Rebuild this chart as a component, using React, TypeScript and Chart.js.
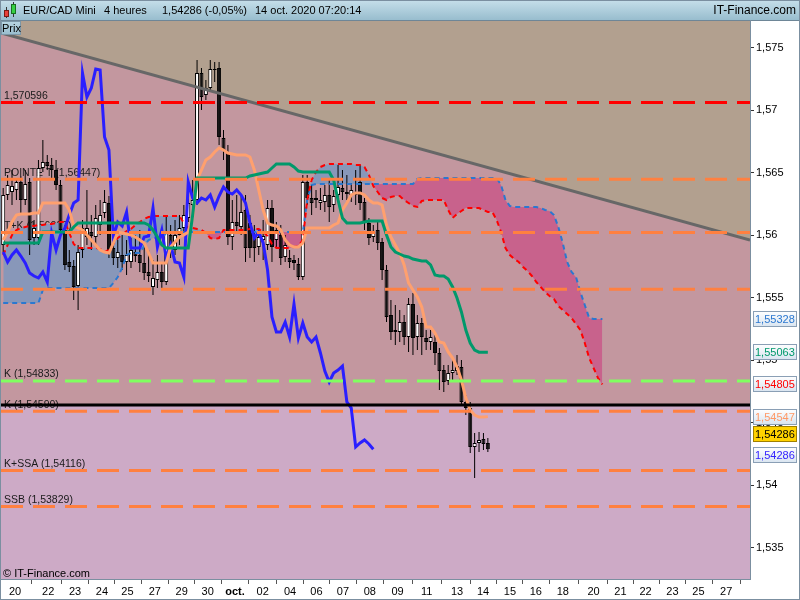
import React, { useEffect, useRef } from 'react';
import { Chart, registerables } from 'chart.js';

Chart.register(...registerables);

const FONT = '"Liberation Sans", Arial, sans-serif';

// ---- 4h candles (EUR/CAD) ----
const opens = [
  1.55920, 1.56320, 1.56344, 1.56360, 1.56424, 1.56280, 1.56424, 1.55976, 1.55976, 1.56536,
  1.56584, 1.56560, 1.56520, 1.56400, 1.56040, 1.55784, 1.55752, 1.55592, 1.55880, 1.55984,
  1.56024, 1.55984, 1.56080, 1.56176, 1.56256, 1.55896, 1.55816, 1.55840, 1.55784, 1.55784,
  1.55864, 1.55840, 1.55776, 1.55704, 1.55584, 1.55640, 1.55704, 1.55624, 1.56000, 1.55880,
  1.56000, 1.56056, 1.56136, 1.56240, 1.56280, 1.57296, 1.57120, 1.57176, 1.57328, 1.57336,
  1.56776, 1.56656, 1.55984, 1.56104, 1.56064, 1.56200, 1.56096, 1.56000, 1.55904, 1.55960,
  1.55920, 1.56216, 1.55960, 1.56000, 1.55824, 1.55816, 1.55800, 1.55768, 1.55664, 1.56424,
  1.56296, 1.56280, 1.56256, 1.56264, 1.56320, 1.56240, 1.56320, 1.56376, 1.56344, 1.56320,
  1.56344, 1.56424, 1.56264, 1.56096, 1.55984, 1.56040, 1.55944, 1.55720, 1.55360, 1.55240,
  1.55224, 1.55304, 1.55184, 1.55448, 1.55184, 1.55296, 1.55176, 1.55144, 1.55144, 1.55056,
  1.54920, 1.54832, 1.54896, 1.54912, 1.54944, 1.54664, 1.54616, 1.54304, 1.54336, 1.54368,
  1.54336,
];
const highs = [
  1.56376, 1.56480, 1.56520, 1.56456, 1.56472, 1.56520, 1.56456, 1.56120, 1.56600, 1.56760,
  1.56640, 1.56616, 1.56600, 1.56440, 1.56080, 1.55880, 1.55800, 1.55920, 1.56120, 1.56360,
  1.56160, 1.56240, 1.56280, 1.56360, 1.56312, 1.56080, 1.55960, 1.56000, 1.55960, 1.55976,
  1.56000, 1.56040, 1.55920, 1.55880, 1.55800, 1.55840, 1.55784, 1.56160, 1.56080, 1.56120,
  1.56160, 1.56240, 1.56400, 1.56440, 1.57400, 1.57336, 1.57240, 1.57400, 1.57384, 1.57384,
  1.56840, 1.56720, 1.56280, 1.56320, 1.56320, 1.56320, 1.56160, 1.56080, 1.56040, 1.56120,
  1.56280, 1.56280, 1.56104, 1.56080, 1.56000, 1.55880, 1.55840, 1.55816, 1.56480, 1.56480,
  1.56400, 1.56360, 1.56376, 1.56400, 1.56440, 1.56360, 1.56560, 1.56520, 1.56480, 1.56416,
  1.56520, 1.56560, 1.56296, 1.56136, 1.56080, 1.56104, 1.55976, 1.55760, 1.55480, 1.55440,
  1.55400, 1.55360, 1.55496, 1.55536, 1.55360, 1.55336, 1.55240, 1.55240, 1.55200, 1.55096,
  1.54960, 1.54960, 1.55000, 1.55040, 1.55000, 1.54720, 1.54664, 1.54416, 1.54424, 1.54416,
  1.54376,
];
const lows = [
  1.55864, 1.56280, 1.56240, 1.56280, 1.56160, 1.56240, 1.55840, 1.55920, 1.55920, 1.56504,
  1.56520, 1.56456, 1.56360, 1.56000, 1.55720, 1.55704, 1.55480, 1.55400, 1.55816, 1.55920,
  1.55880, 1.55920, 1.56000, 1.56136, 1.55816, 1.55760, 1.55736, 1.55720, 1.55680, 1.55736,
  1.55784, 1.55704, 1.55640, 1.55624, 1.55520, 1.55576, 1.55560, 1.55600, 1.55816, 1.55840,
  1.55920, 1.56024, 1.56104, 1.56160, 1.56240, 1.57000, 1.57080, 1.57144, 1.57224, 1.56720,
  1.56600, 1.55920, 1.55880, 1.56024, 1.56000, 1.55784, 1.55816, 1.55784, 1.55840, 1.55800,
  1.55880, 1.55784, 1.55896, 1.55760, 1.55784, 1.55736, 1.55720, 1.55640, 1.55640, 1.56240,
  1.56160, 1.56216, 1.56200, 1.56184, 1.56104, 1.56184, 1.56280, 1.56280, 1.56280, 1.56264,
  1.56240, 1.56200, 1.56040, 1.55920, 1.55944, 1.55880, 1.55640, 1.55304, 1.55160, 1.55120,
  1.55144, 1.55120, 1.55064, 1.55040, 1.55080, 1.55040, 1.55080, 1.55080, 1.54960, 1.54760,
  1.54744, 1.54800, 1.54840, 1.54880, 1.54640, 1.54560, 1.54256, 1.54056, 1.54264, 1.54280,
  1.54264,
];
const closes = [
  1.56320, 1.56400, 1.56392, 1.56424, 1.56280, 1.56408, 1.55960, 1.56056, 1.56536, 1.56584,
  1.56552, 1.56520, 1.56400, 1.56040, 1.55760, 1.55744, 1.55584, 1.55864, 1.56056, 1.56056,
  1.55992, 1.56136, 1.56160, 1.56264, 1.55880, 1.55816, 1.55864, 1.55784, 1.55840, 1.55880,
  1.55832, 1.55776, 1.55696, 1.55672, 1.55656, 1.55704, 1.55624, 1.56016, 1.55880, 1.56000,
  1.56056, 1.56160, 1.56256, 1.56280, 1.57296, 1.57104, 1.57176, 1.57328, 1.57320, 1.56784,
  1.56680, 1.55984, 1.56104, 1.56072, 1.56184, 1.55896, 1.55896, 1.55896, 1.55984, 1.55992,
  1.56216, 1.55904, 1.56040, 1.55816, 1.55920, 1.55784, 1.55776, 1.55664, 1.56424, 1.56296,
  1.56256, 1.56296, 1.56280, 1.56320, 1.56224, 1.56312, 1.56384, 1.56344, 1.56328, 1.56360,
  1.56320, 1.56256, 1.56096, 1.55976, 1.56024, 1.55936, 1.55720, 1.55344, 1.55224, 1.55224,
  1.55304, 1.55184, 1.55448, 1.55176, 1.55296, 1.55184, 1.55144, 1.55184, 1.55056, 1.54912,
  1.54824, 1.54896, 1.54920, 1.54952, 1.54664, 1.54616, 1.54304, 1.54336, 1.54360, 1.54328,
  1.54286,
];

// ---- Ichimoku ----
const tenkan = [
  1.55960, 1.56024, 1.56104, 1.56160, 1.56168, 1.56168, 1.56168, 1.56176, 1.56176, 1.56256,
  1.56256, 1.56256, 1.56256, 1.56256, 1.56256, 1.56200, 1.56072, 1.56056, 1.56040, 1.56000,
  1.55960, 1.55920, 1.55880, 1.55864, 1.55856, 1.55936, 1.56024, 1.56016, 1.56008, 1.56000,
  1.55984, 1.55960, 1.55936, 1.55856, 1.55776, 1.55776, 1.55776, 1.55776, 1.55904, 1.55944,
  1.55984, 1.56000, 1.56024, 1.56144, 1.56440, 1.56520, 1.56600, 1.56624, 1.56664, 1.56696,
  1.56680, 1.56656, 1.56648, 1.56640, 1.56640, 1.56640, 1.56624, 1.56520, 1.56360, 1.56200,
  1.56096, 1.56080, 1.56072, 1.56040, 1.55960, 1.55920, 1.55904, 1.55904, 1.55936, 1.56056,
  1.56056, 1.56056, 1.56056, 1.56056, 1.56056, 1.56080, 1.56096, 1.56200, 1.56256, 1.56320,
  1.56336, 1.56336, 1.56320, 1.56280, 1.56256, 1.56256, 1.56240, 1.56080, 1.55984, 1.55920,
  1.55856, 1.55760, 1.55616, 1.55560, 1.55504, 1.55424, 1.55264, 1.55264, 1.55216, 1.55144,
  1.55136, 1.55064, 1.55016, 1.54944, 1.54840, 1.54696, 1.54600, 1.54560, 1.54544, 1.54544,
  1.54547,
];
const kijun = [
  1.55936, 1.55936, 1.55936, 1.55936, 1.55936, 1.55936, 1.55936, 1.55936, 1.55936, 1.56024,
  1.56024, 1.56024, 1.56024, 1.56024, 1.56024, 1.56024, 1.56064, 1.56096, 1.56096, 1.56096,
  1.56096, 1.56096, 1.56096, 1.56096, 1.56096, 1.56096, 1.56096, 1.56096, 1.56096, 1.56096,
  1.56096, 1.56096, 1.56096, 1.56080, 1.56040, 1.55984, 1.55920, 1.55896, 1.55896, 1.55896,
  1.55896, 1.55896, 1.55896, 1.56160, 1.56456, 1.56456, 1.56456, 1.56456, 1.56456, 1.56456,
  1.56456, 1.56456, 1.56456, 1.56456, 1.56456, 1.56456, 1.56472, 1.56480, 1.56488, 1.56496,
  1.56504, 1.56536, 1.56568, 1.56568, 1.56568, 1.56568, 1.56544, 1.56512, 1.56504, 1.56504,
  1.56504, 1.56504, 1.56504, 1.56504, 1.56504, 1.56440, 1.56280, 1.56136, 1.56096, 1.56096,
  1.56096, 1.56096, 1.56104, 1.56112, 1.56112, 1.56112, 1.56112, 1.56000, 1.55904, 1.55864,
  1.55848, 1.55832, 1.55824, 1.55808, 1.55800, 1.55792, 1.55792, 1.55760, 1.55680, 1.55672,
  1.55672, 1.55648, 1.55584, 1.55496, 1.55384, 1.55240, 1.55136, 1.55080, 1.55063, 1.55063,
  1.55063,
];
const senkouA = [
  1.55840, 1.55920, 1.56000, 1.56040, 1.56056, 1.56064, 1.56072, 1.56072, 1.56080, 1.56080,
  1.56088, 1.56088, 1.56096, 1.56104, 1.56104, 1.56016, 1.55928, 1.55896, 1.55896, 1.55896,
  1.55896, 1.55896, 1.55888, 1.55864, 1.55880, 1.55928, 1.55976, 1.56000, 1.56032, 1.56048,
  1.56080, 1.56104, 1.56128, 1.56144, 1.56152, 1.56152, 1.56152, 1.56152, 1.56152, 1.56152,
  1.56152, 1.56096, 1.56056, 1.56056, 1.56048, 1.56040, 1.56016, 1.55976, 1.55968, 1.55976,
  1.56040, 1.56040, 1.56040, 1.56040, 1.56040, 1.56040, 1.56048, 1.56048, 1.56048, 1.56024,
  1.55992, 1.55928, 1.55896, 1.55896, 1.55896, 1.55896, 1.55904, 1.55912, 1.55960, 1.56280,
  1.56440, 1.56504, 1.56544, 1.56560, 1.56568, 1.56568, 1.56568, 1.56568, 1.56568, 1.56568,
  1.56560, 1.56560, 1.56544, 1.56480, 1.56392, 1.56344, 1.56296, 1.56280, 1.56304, 1.56312,
  1.56312, 1.56280, 1.56256, 1.56232, 1.56224, 1.56272, 1.56280, 1.56280, 1.56280, 1.56280,
  1.56280, 1.56200, 1.56136, 1.56168, 1.56192, 1.56216, 1.56216, 1.56216, 1.56216, 1.56200,
  1.56184, 1.56184, 1.56120, 1.56024, 1.55896, 1.55840, 1.55808, 1.55784, 1.55744, 1.55712,
  1.55672, 1.55624, 1.55584, 1.55544, 1.55512, 1.55488, 1.55432, 1.55400, 1.55368, 1.55336,
  1.55288, 1.55240, 1.55136, 1.55016, 1.54936, 1.54856, 1.54805,
];
const senkouB = [
  1.55456, 1.55456, 1.55456, 1.55456, 1.55456, 1.55456, 1.55456, 1.55456, 1.55456, 1.55560,
  1.55576, 1.55576, 1.55576, 1.55576, 1.55576, 1.55576, 1.55576, 1.55576, 1.55576, 1.55576,
  1.55576, 1.55576, 1.55576, 1.55576, 1.55576, 1.55616, 1.55664, 1.55736, 1.55840, 1.55856,
  1.55856, 1.55856, 1.55912, 1.55960, 1.55976, 1.55976, 1.55976, 1.56016, 1.56024, 1.56024,
  1.56024, 1.56024, 1.56024, 1.56024, 1.56024, 1.56024, 1.56024, 1.56024, 1.56024, 1.56024,
  1.56024, 1.56024, 1.56024, 1.56024, 1.56024, 1.56024, 1.56024, 1.56024, 1.56024, 1.56024,
  1.56024, 1.56024, 1.56024, 1.56024, 1.56024, 1.56024, 1.56024, 1.56024, 1.56024, 1.56280,
  1.56400, 1.56408, 1.56408, 1.56408, 1.56408, 1.56408, 1.56408, 1.56408, 1.56408, 1.56408,
  1.56408, 1.56408, 1.56408, 1.56408, 1.56408, 1.56408, 1.56408, 1.56408, 1.56408, 1.56408,
  1.56408, 1.56408, 1.56408, 1.56408, 1.56448, 1.56456, 1.56456, 1.56456, 1.56456, 1.56456,
  1.56456, 1.56456, 1.56456, 1.56456, 1.56456, 1.56456, 1.56456, 1.56456, 1.56456, 1.56456,
  1.56456, 1.56456, 1.56456, 1.56400, 1.56280, 1.56232, 1.56224, 1.56224, 1.56224, 1.56224,
  1.56224, 1.56224, 1.56216, 1.56200, 1.56192, 1.56160, 1.56064, 1.55936, 1.55784, 1.55704,
  1.55664, 1.55544, 1.55440, 1.55336, 1.55328, 1.55328, 1.55328,
];
const chikouShift = 26;

// ---- horizontal levels and trendline ----
const levelValues = [1.570596, 1.56447, 1.5602, 1.55566, 1.54833, 1.5459, 1.54116, 1.53829];
const levelLabels = [
  '1,570596', 'POINTE T (1,56447)', 'T+K (1,56020)', 'K (1,55566)',
  'K (1,54833)', 'K (1,54590)', 'K+SSA (1,54116)', 'SSB (1,53829)',
];
const levelColors = ['#FF0000', '#FF8040', '#FF8040', '#FF8040', '#80FF60', '#FF8040', '#FF8040', '#FF8040'];
const blackLevel = 1.5464;
const trendStart = 1.57616;
const trendEnd = 1.5596;

// ---- axes ----
const xTickPos = [2.7, 10.2, 16.3, 22.4, 28.2, 34.4, 40.5, 46.4, 52.6, 58.9, 65.1, 71.1, 77.1, 83.2,
  89.5, 96.1, 103.0, 108.9, 115.0, 120.9, 127.0, 134.0, 140.1, 145.8, 151.9, 157.8, 164.1];
const xTickLabels = ['20', '22', '23', '24', '25', '27', '29', '30', 'oct.', '02', '04', '06', '07', '08',
  '09', '11', '13', '14', '15', '16', '18', '20', '21', '22', '23', '25', '27'];
const yTicks = [1.535, 1.54, 1.545, 1.55, 1.555, 1.56, 1.565, 1.57, 1.575];

const X_MIN = -0.5;
const X_MAX = 169.5;
const Y_MIN = 1.53248;
const Y_MAX = 1.57712;

const headerTexts = ['EUR/CAD Mini', '4 heures', '1,54286 (-0,05%)', '14 oct. 2020 07:20:14'];

const fmtTick = (v: number) => String(parseFloat(v.toFixed(3))).replace('.', ',');
const fmt5 = (v: number) => v.toFixed(5).replace('.', ',');
const pts = (arr: number[]) => arr.map((v, i) => ({ x: i, y: v }));

const backdropPlugin = {
  id: 'backdrop',
  beforeDatasetsDraw(chart: any) {
    const { ctx, chartArea: a, scales } = chart;
    const xs = scales.x;
    const ys = scales.y;
    ctx.save();
    ctx.fillStyle = '#CDAAC6';
    ctx.fillRect(a.left, a.top, a.right - a.left, a.bottom - a.top);
    const yb = ys.getPixelForValue(blackLevel);
    ctx.fillStyle = '#C3979F';
    ctx.fillRect(a.left, a.top, a.right - a.left, yb - a.top);
    ctx.fillStyle = '#B2A08F';
    ctx.beginPath();
    ctx.moveTo(xs.getPixelForValue(X_MIN), a.top);
    ctx.lineTo(xs.getPixelForValue(X_MAX), a.top);
    ctx.lineTo(xs.getPixelForValue(X_MAX), ys.getPixelForValue(trendEnd));
    ctx.lineTo(xs.getPixelForValue(X_MIN), ys.getPixelForValue(trendStart));
    ctx.closePath();
    ctx.fill();
    ctx.font = `10.5px ${FONT}`;
    ctx.fillStyle = '#1a1a1a';
    ctx.textAlign = 'left';
    ctx.textBaseline = 'alphabetic';
    levelValues.forEach((v, i) => {
      ctx.fillText(levelLabels[i], a.left + 3, ys.getPixelForValue(v) - 3.5);
    });
    ctx.restore();
  },
};

const overlayPlugin = {
  id: 'overlay',
  afterDraw(chart: any) {
    const { ctx, chartArea: a, scales } = chart;
    const ys = scales.y;
    const W = chart.width;
    const H = chart.height;
    ctx.save();
    // header bar
    const g = ctx.createLinearGradient(0, 0, 0, 20);
    g.addColorStop(0, '#C6DFEA');
    g.addColorStop(1, '#98BDCE');
    ctx.fillStyle = g;
    ctx.fillRect(0, 0, W, 20);
    ctx.strokeStyle = '#6E8697';
    ctx.lineWidth = 1;
    ctx.beginPath();
    ctx.moveTo(0, 20.5);
    ctx.lineTo(W, 20.5);
    ctx.stroke();
    // icon
    ctx.fillStyle = '#333';
    ctx.fillRect(6, 7, 1, 11);
    ctx.fillRect(13, 2, 1, 15);
    ctx.fillStyle = '#E8413A';
    ctx.fillRect(4, 10, 5, 7);
    ctx.strokeStyle = '#7a1a14';
    ctx.strokeRect(4.5, 10.5, 4, 6);
    ctx.fillStyle = '#37D043';
    ctx.fillRect(11, 4, 5, 10);
    ctx.strokeStyle = '#17701e';
    ctx.strokeRect(11.5, 4.5, 4, 9);
    // header texts
    ctx.fillStyle = '#000';
    ctx.font = `11px ${FONT}`;
    ctx.textBaseline = 'middle';
    ctx.textAlign = 'left';
    const hx = [23, 104, 162, 255];
    headerTexts.forEach((t, i) => ctx.fillText(t, hx[i], 11));
    ctx.font = `12px ${FONT}`;
    ctx.textAlign = 'right';
    ctx.fillText('IT-Finance.com', W - 4, 11);
    // plot borders
    ctx.strokeStyle = '#7B8FA0';
    ctx.beginPath();
    ctx.moveTo(0.5, 20);
    ctx.lineTo(0.5, a.bottom);
    ctx.moveTo(a.right + 0.5, 20);
    ctx.lineTo(a.right + 0.5, a.bottom + 1);
    ctx.moveTo(0, a.bottom + 0.5);
    ctx.lineTo(a.right, a.bottom + 0.5);
    ctx.stroke();
    ctx.strokeRect(0.5, 0.5, W - 1, H - 1);
    // Prix box
    const pg = ctx.createLinearGradient(0, 21, 0, 35);
    pg.addColorStop(0, '#B9D6E3');
    pg.addColorStop(1, '#98BCCD');
    ctx.fillStyle = pg;
    ctx.fillRect(1, 21, 20, 14);
    ctx.strokeStyle = '#7C97A8';
    ctx.strokeRect(1.5, 21.5, 19, 13);
    ctx.fillStyle = '#000';
    ctx.font = `11px ${FONT}`;
    ctx.textAlign = 'left';
    ctx.fillText('Prix', 2, 28.5);
    // copyright
    ctx.textBaseline = 'alphabetic';
    ctx.fillText('\u00A9 IT-Finance.com', 3, a.bottom - 2);
    // right value boxes
    const li = closes.length - 1;
    const boxes = [
      { v: senkouB[senkouB.length - 1], color: '#2B78D0', fill: '', dy: 0 },
      { v: kijun[li], color: '#00996B', fill: '', dy: 0 },
      { v: senkouA[senkouA.length - 1], color: '#FF0000', fill: '', dy: 0 },
      { v: tenkan[li], color: '#FF9966', fill: '', dy: 0 },
      { v: closes[li], color: '#000000', fill: '#FFD200', dy: -15 },
      { v: closes[li], color: '#3322FF', fill: '', dy: 6 },
    ];
    ctx.font = `11px ${FONT}`;
    ctx.textBaseline = 'middle';
    boxes.forEach((b) => {
      const yc = Math.round(ys.getPixelForValue(b.v) + b.dy);
      const x0 = a.right + 3;
      if (b.fill) {
        ctx.fillStyle = b.fill;
      } else {
        const bg = ctx.createLinearGradient(0, yc - 8, 0, yc + 8);
        bg.addColorStop(0, '#FFFFFF');
        bg.addColorStop(1, '#D8E4F0');
        ctx.fillStyle = bg;
      }
      ctx.fillRect(x0, yc - 8, 44, 16);
      ctx.strokeStyle = b.fill ? '#A08000' : '#8A9FB5';
      ctx.strokeRect(x0 + 0.5, yc - 7.5, 43, 15);
      ctx.fillStyle = b.color;
      ctx.fillText(fmt5(b.v), x0 + 2, yc + 0.5);
    });
    ctx.restore();
  },
};

export default function App() {
  const ref = useRef<HTMLCanvasElement>(null);
  useEffect(() => {
    document.body.style.margin = '0';
    const canvas = ref.current;
    if (!canvas) return;
    const trend = [{ x: X_MIN, y: trendStart }, { x: X_MAX, y: trendEnd }];
    const levelSets = levelValues.map((v, i) => ({
      type: 'line',
      data: [{ x: X_MIN, y: v }, { x: X_MAX, y: v }],
      borderColor: levelColors[i],
      borderWidth: 3,
      borderDash: [22, 10],
      pointRadius: 0,
      fill: false,
      order: 40,
    }));
    const chart = new Chart(canvas, {
      type: 'line',
      data: {
        datasets: [
          {
            type: 'line',
            data: pts(senkouA),
            borderColor: 'rgba(0,0,0,0)',
            borderWidth: 0,
            pointRadius: 0,
            fill: { target: 1, above: '#8897B9', below: '#C8628C' },
            order: 100,
          },
          {
            type: 'line',
            data: pts(senkouB),
            borderColor: 'rgba(0,0,0,0)',
            borderWidth: 0,
            pointRadius: 0,
            fill: false,
            order: 101,
          },
          {
            type: 'bar',
            data: lows.map((l, i) => ({ x: i, y: [l, highs[i]] })),
            backgroundColor: '#000',
            borderWidth: 0,
            barThickness: 1,
            grouped: false,
            inflateAmount: 0,
            order: 90,
          },
          {
            type: 'bar',
            data: opens.map((o, i) => ({ x: i, y: [o, closes[i]] })),
            backgroundColor: closes.map((c, i) => (c >= opens[i] ? '#FFFFFF' : '#111111')),
            borderColor: '#000',
            borderWidth: 1,
            borderSkipped: false,
            barThickness: 4,
            minBarLength: 1,
            grouped: false,
            inflateAmount: 0,
            order: 80,
          },
          {
            type: 'line',
            data: pts(senkouA),
            borderColor: '#FF0000',
            borderWidth: 2,
            borderDash: [5, 4],
            pointRadius: 0,
            fill: false,
            order: 70,
          },
          {
            type: 'line',
            data: pts(senkouB),
            borderColor: '#2B78D0',
            borderWidth: 2,
            borderDash: [5, 4],
            pointRadius: 0,
            fill: false,
            order: 70,
          },
          {
            type: 'line',
            data: trend,
            borderColor: '#676767',
            borderWidth: 3,
            pointRadius: 0,
            fill: false,
            order: 60,
          },
          {
            type: 'line',
            data: pts(kijun),
            borderColor: '#00996B',
            borderWidth: 3,
            pointRadius: 0,
            fill: false,
            order: 55,
          },
          {
            type: 'line',
            data: pts(tenkan),
            borderColor: '#FFA06E',
            borderWidth: 3,
            pointRadius: 0,
            fill: false,
            order: 55,
          },
          {
            type: 'line',
            data: pts(closes.slice(chikouShift)),
            borderColor: '#2A1FFF',
            borderWidth: 3,
            pointRadius: 0,
            fill: false,
            order: 55,
          },
          ...levelSets,
          {
            type: 'line',
            data: [{ x: X_MIN, y: blackLevel }, { x: X_MAX, y: blackLevel }],
            borderColor: '#000',
            borderWidth: 3,
            pointRadius: 0,
            fill: false,
            order: 39,
          },
        ] as any,
      },
      options: {
        responsive: false,
        animation: false,
        devicePixelRatio: 1,
        layout: { padding: { top: 21, left: 1, right: 0, bottom: 0 } },
        plugins: { legend: { display: false }, tooltip: { enabled: false } },
        elements: { line: { tension: 0 } },
        scales: {
          x: {
            type: 'linear',
            position: 'bottom',
            min: X_MIN,
            max: X_MAX,
            offset: false,
            afterFit: (s: any) => { s.height = 21; },
            afterBuildTicks: (s: any) => { s.ticks = xTickPos.map((v) => ({ value: v })); },
            grid: { drawOnChartArea: false, drawTicks: true, tickLength: 5, color: '#555' },
            border: { display: false },
            ticks: {
              autoSkip: false,
              maxRotation: 0,
              padding: 1,
              color: '#000',
              font: (c: any) => ({
                size: 11,
                family: FONT,
                weight: xTickLabels[c.index] === 'oct.' ? 'bold' : 'normal',
              }),
              callback: (_v: any, i: number) => xTickLabels[i] ?? '',
            },
          },
          y: {
            type: 'linear',
            position: 'right',
            min: Y_MIN,
            max: Y_MAX,
            afterFit: (s: any) => { s.width = 50; },
            afterBuildTicks: (s: any) => { s.ticks = yTicks.map((v) => ({ value: v })); },
            grid: { drawOnChartArea: false, drawTicks: true, tickLength: 4, color: '#333' },
            border: { display: false },
            ticks: {
              padding: 2,
              color: '#000',
              font: { size: 11, family: FONT },
              callback: (v: any) => fmtTick(Number(v)),
            },
          },
        },
      } as any,
      plugins: [backdropPlugin, overlayPlugin],
    } as any);
    return () => chart.destroy();
  }, []);
  return (
    <div style={{ position: 'absolute', left: 0, top: 0, width: 800, height: 600, background: '#fff' }}>
      <canvas ref={ref} width={800} height={600} style={{ display: 'block', width: 800, height: 600 }} />
    </div>
  );
}
